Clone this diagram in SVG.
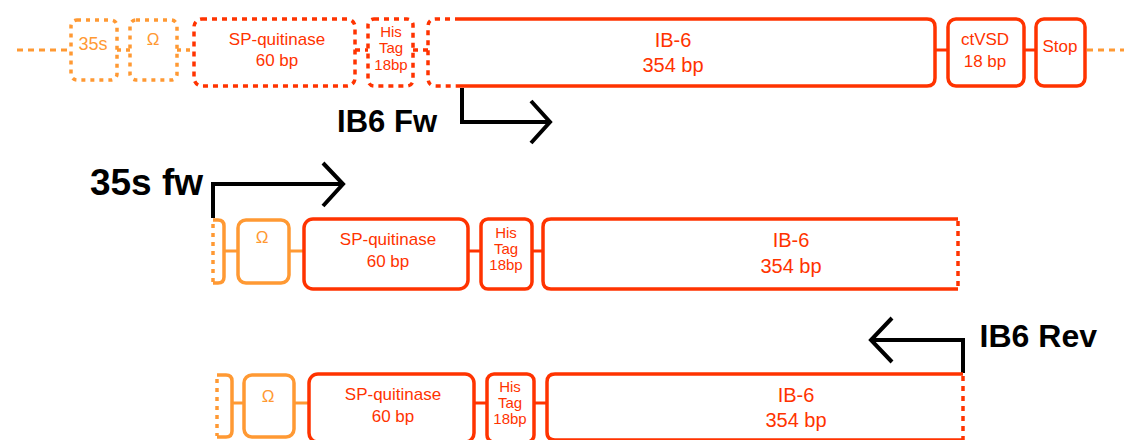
<svg xmlns="http://www.w3.org/2000/svg" width="1135" height="440" viewBox="0 0 1135 440">
<style>
.r{fill:none;stroke:#FF3300;stroke-width:3.5}
.o{fill:none;stroke:#FF9933;stroke-width:3.5}
.rd{fill:none;stroke:#FF3300;stroke-width:3.5;stroke-dasharray:5 5}
.od{fill:none;stroke:#FF9933;stroke-width:3.5;stroke-dasharray:4 5}
.ol{fill:none;stroke:#FF9933;stroke-width:3;stroke-dasharray:6 5}
.c{fill:none;stroke:#FF3300;stroke-width:3}
.co{fill:none;stroke:#FF9933;stroke-width:3}
.k{fill:none;stroke:#000;stroke-width:4;stroke-linejoin:miter}
text{font-family:"Liberation Sans",Arial,sans-serif;text-anchor:middle}
.t{fill:#FF3300;font-size:17px}
.th{fill:#FF3300;font-size:15px}
.tb{fill:#FF3300;font-size:20px}
.to{fill:#FF9933;font-size:17px}
.lb{fill:#000;font-weight:bold;text-anchor:end}
</style>
<g id="connectors">
<line class="ol" x1="17" y1="50" x2="70" y2="50"/>
<line class="od" x1="117" y1="50" x2="130" y2="50"/>
<line class="od" x1="177" y1="50" x2="194" y2="50"/>
<line class="rd" x1="355" y1="50" x2="368" y2="50"/>
<line class="rd" x1="413" y1="50" x2="428" y2="50"/>
<line class="c" x1="935" y1="50" x2="948" y2="50"/>
<line class="c" x1="1024" y1="50" x2="1036" y2="50"/>
<line class="ol" x1="1087" y1="50" x2="1124" y2="50"/>
<line class="co" x1="224" y1="251" x2="238" y2="251"/>
<line class="co" x1="289" y1="251" x2="304" y2="251"/>
<line class="c" x1="468" y1="251" x2="481" y2="251"/>
<line class="c" x1="532" y1="251" x2="543" y2="251"/>
<line class="co" x1="232" y1="403" x2="244" y2="403"/>
<line class="co" x1="294" y1="403" x2="309" y2="403"/>
<line class="c" x1="474" y1="403" x2="487" y2="403"/>
<line class="c" x1="534" y1="403" x2="547" y2="403"/>
</g>
<g id="row1-35s"><rect class="od" x="71" y="20" width="46" height="60" rx="6"/><text class="to" x="93" y="50" style="font-size:18px">35s</text></g>
<g id="row1-omega"><rect class="od" x="130" y="20" width="47" height="60" rx="6"/><text class="to" x="153" y="45">Ω</text></g>
<g id="row1-sp"><rect class="rd" x="194" y="19" width="161" height="67" rx="8"/><text class="t" x="277" y="45">SP-quitinase</text><text class="t" x="277" y="66">60 bp</text></g>
<g id="row1-his"><rect class="rd" x="368" y="19" width="45" height="67" rx="6"/><text class="th" x="391" y="37">His</text><text class="th" x="391" y="53">Tag</text><text class="th" x="391" y="70">18bp</text></g>
<g id="row1-ib6"><path class="rd" d="M460 19 H436 Q428 19 428 27 V78 Q428 86 436 86 H460"/><path class="r" d="M460 19 H927 Q935 19 935 27 V78 Q935 86 927 86 H460"/><text class="tb" x="673" y="47">IB-6</text><text class="tb" x="673" y="72">354 bp</text></g>
<g id="row1-ctvsd"><rect class="r" x="948" y="19" width="76" height="67" rx="8"/><text class="t" x="985" y="45">ctVSD</text><text class="t" x="985" y="67">18 bp</text></g>
<g id="row1-stop"><rect class="r" x="1036" y="19" width="49" height="67" rx="8"/><text class="t" x="1060" y="52">Stop</text></g>
<g id="ib6-fw"><path class="k" d="M462 88 V122 H549"/><path class="k" d="M531 101 L550 122 L531 143"/><text class="lb" x="437" y="132" style="font-size:31px">IB6 Fw</text></g>
<g id="fw-35s"><path class="k" d="M213 218 V184 H342"/><path class="k" d="M323 163 L343 184 L323 206"/><text class="lb" x="203" y="195" style="font-size:37px">35s fw</text></g>
<g id="row2-35s"><path class="o" d="M213 220 H218 Q224 220 224 226 V277 Q224 283 218 283 H213"/><line class="od" x1="213" y1="224" x2="213" y2="282"/></g>
<g id="row2-omega"><rect class="o" x="238" y="220" width="51" height="63" rx="8"/><text class="to" x="262" y="243">Ω</text></g>
<g id="row2-sp"><rect class="r" x="304" y="219" width="164" height="70" rx="9"/><text class="t" x="388" y="245">SP-quitinase</text><text class="t" x="388" y="267">60 bp</text></g>
<g id="row2-his"><rect class="r" x="481" y="219" width="51" height="70" rx="7"/><text class="th" x="506" y="238">His</text><text class="th" x="506" y="254">Tag</text><text class="th" x="506" y="270">18bp</text></g>
<g id="row2-ib6"><path class="r" d="M958 219 H551 Q543 219 543 227 V281 Q543 289 551 289 H958"/><line class="rd" x1="958" y1="221" x2="958" y2="287"/><text class="tb" x="791" y="247">IB-6</text><text class="tb" x="791" y="273">354 bp</text></g>
<g id="ib6-rev"><path class="k" d="M963 373 V340 H872"/><path class="k" d="M892 318 L871 340 L892 362"/><text class="lb" x="1097" y="347" style="font-size:32px">IB6 Rev</text></g>
<g id="row3-35s"><path class="o" d="M217 375 H226 Q232 375 232 381 V431 Q232 437 226 437 H217"/><line class="od" x1="217" y1="379" x2="217" y2="436"/></g>
<g id="row3-omega"><rect class="o" x="244" y="375" width="50" height="62" rx="8"/><text class="to" x="268" y="402">Ω</text></g>
<g id="row3-sp"><rect class="r" x="309" y="374" width="165" height="68" rx="9"/><text class="t" x="393" y="400">SP-quitinase</text><text class="t" x="393" y="422">60 bp</text></g>
<g id="row3-his"><rect class="r" x="487" y="374" width="47" height="68" rx="7"/><text class="th" x="510" y="392">His</text><text class="th" x="510" y="408">Tag</text><text class="th" x="510" y="424">18bp</text></g>
<g id="row3-ib6"><path class="r" d="M963 374 H555 Q547 374 547 382 V432 Q547 440 555 440 H963"/><line class="rd" x1="963" y1="376" x2="963" y2="440"/><text class="tb" x="796" y="402">IB-6</text><text class="tb" x="796" y="427">354 bp</text></g>
</svg>
